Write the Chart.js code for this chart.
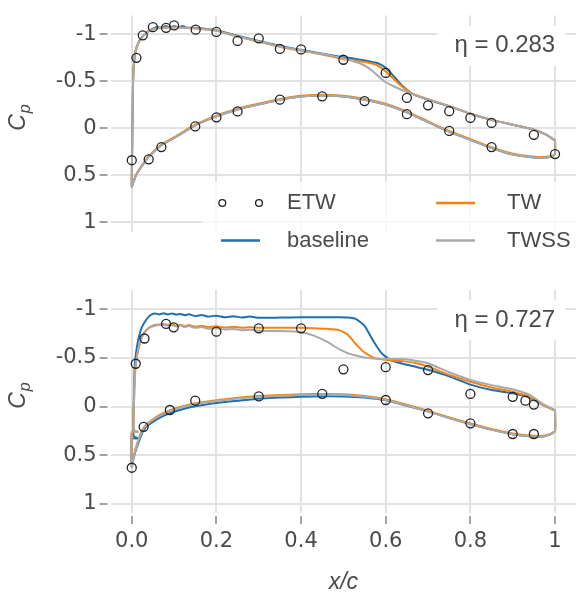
<!DOCTYPE html>
<html><head><meta charset="utf-8">
<script src="https://cdn.jsdelivr.net/npm/chart.js@4.4.1/dist/chart.umd.min.js"></script>
<style>
html,body{margin:0;padding:0;background:#fff;overflow:hidden;width:579px;height:599px;}
canvas{position:absolute;left:0;}
#c1{top:0px}
#c2{top:260px}
</style></head><body>
<canvas id="c1" width="582" height="260"></canvas>
<canvas id="c2" width="582" height="339"></canvas>
<script>
// ---------- tick labels / names ----------
const xTickValues = [0, 0.2, 0.4, 0.6, 0.8, 1];
const xTickLabels = ['0.0', '0.2', '0.4', '0.6', '0.8', '1'];
const yTickValues = [-1, -0.5, 0, 0.5, 1];
const yTickLabels = ['-1', '-0.5', '0', '0.5', '1'];
const seriesNames = ['ETW', 'baseline', 'TW', 'TWSS'];
const panelLabels = ['η = 0.283', 'η = 0.727'];

// ---------- panel 1 (eta = 0.283) ----------
const p1UpperX = [0, 0.001, 0.003, 0.007, 0.012, 0.018, 0.025, 0.035, 0.05, 0.06, 0.07, 0.08, 0.09, 0.1, 0.11, 0.12, 0.13, 0.15, 0.175, 0.2, 0.25, 0.3, 0.35, 0.4, 0.45, 0.5, 0.52, 0.54, 0.56, 0.58, 0.6, 0.62, 0.64, 0.66, 0.68, 0.7, 0.75, 0.8, 0.85, 0.9, 0.95, 0.98, 1.0];
const p1UpperBaseline = [0.62, 0.2, -0.5, -0.78, -0.87, -0.93, -0.975, -1.02, -1.06, -1.08, -1.07, -1.09, -1.075, -1.09, -1.075, -1.088, -1.072, -1.07, -1.058, -1.045, -0.985, -0.93, -0.878, -0.835, -0.795, -0.757, -0.745, -0.73, -0.715, -0.695, -0.645, -0.55, -0.45, -0.375, -0.335, -0.305, -0.235, -0.155, -0.09, -0.038, 0.015, 0.07, 0.13];
const p1UpperTW = [0.62, 0.2, -0.5, -0.78, -0.87, -0.93, -0.975, -1.02, -1.055, -1.065, -1.07, -1.072, -1.074, -1.075, -1.074, -1.072, -1.07, -1.065, -1.055, -1.04, -0.978, -0.922, -0.868, -0.826, -0.785, -0.738, -0.725, -0.712, -0.698, -0.67, -0.605, -0.52, -0.44, -0.378, -0.338, -0.31, -0.236, -0.155, -0.09, -0.038, 0.015, 0.07, 0.13];
const p1UpperTWSS = [0.62, 0.2, -0.5, -0.78, -0.87, -0.93, -0.975, -1.02, -1.053, -1.063, -1.068, -1.07, -1.072, -1.073, -1.072, -1.07, -1.068, -1.063, -1.053, -1.04, -0.978, -0.925, -0.872, -0.83, -0.79, -0.745, -0.72, -0.69, -0.64, -0.565, -0.49, -0.445, -0.405, -0.37, -0.337, -0.31, -0.236, -0.155, -0.09, -0.038, 0.015, 0.07, 0.13];
const p1LowerX = [0, 0.003, 0.01, 0.022, 0.04, 0.07, 0.105, 0.15, 0.2, 0.25, 0.3, 0.35, 0.4, 0.45, 0.5, 0.55, 0.6, 0.65, 0.7, 0.75, 0.8, 0.85, 0.9, 0.95, 0.98, 0.995, 1.0];
const p1LowerBaseline = [0.62, 0.586, 0.5, 0.415, 0.305, 0.18, 0.09, -0.03, -0.127, -0.2, -0.254, -0.305, -0.338, -0.348, -0.338, -0.305, -0.254, -0.17, -0.066, 0.037, 0.123, 0.21, 0.28, 0.31, 0.31, 0.295, 0.27];
const p1LowerTW = [0.62, 0.58, 0.494, 0.407, 0.297, 0.172, 0.082, -0.038, -0.135, -0.208, -0.262, -0.313, -0.346, -0.356, -0.346, -0.313, -0.262, -0.178, -0.074, 0.029, 0.115, 0.202, 0.272, 0.302, 0.302, 0.29, 0.27];
const p1LowerTWSS = [0.62, 0.586, 0.5, 0.415, 0.305, 0.18, 0.09, -0.03, -0.127, -0.2, -0.254, -0.305, -0.338, -0.348, -0.338, -0.305, -0.254, -0.17, -0.066, 0.037, 0.123, 0.21, 0.28, 0.31, 0.31, 0.295, 0.27];
const p1EtwX = [0, 0.011, 0.026, 0.05, 0.081, 0.1, 0.151, 0.2, 0.25, 0.3, 0.35, 0.4, 0.5, 0.6, 0.65, 0.7, 0.75, 0.8, 0.85, 0.95, 1.0, 0.04, 0.07, 0.15, 0.2, 0.25, 0.35, 0.45, 0.55, 0.65, 0.75, 0.85];
const p1EtwCp = [0.34, -0.75, -0.99, -1.077, -1.07, -1.095, -1.05, -1.026, -0.93, -0.957, -0.845, -0.84, -0.73, -0.59, -0.323, -0.245, -0.182, -0.11, -0.057, 0.07, 0.275, 0.33, 0.2, -0.02, -0.117, -0.18, -0.305, -0.34, -0.29, -0.15, 0.028, 0.2];

// ---------- panel 2 (eta = 0.727) ----------
const p2UpperX = [0, 0, 0.014, 0.004, 0.005, 0.007, 0.01, 0.015, 0.02, 0.026, 0.033, 0.04, 0.046, 0.055, 0.065, 0.075, 0.085, 0.095, 0.105, 0.115, 0.125, 0.135, 0.15, 0.165, 0.18, 0.2, 0.22, 0.24, 0.26, 0.28, 0.3, 0.35, 0.4, 0.43, 0.46, 0.49, 0.51, 0.53, 0.55, 0.57, 0.59, 0.61, 0.64, 0.67, 0.7, 0.75, 0.8, 0.85, 0.9, 0.94, 0.97, 1.0];
const p2UpperBaseline = [0.62, 0.33, 0.33, 0.3, -0.1, -0.42, -0.55, -0.68, -0.77, -0.835, -0.885, -0.925, -0.945, -0.958, -0.948, -0.96, -0.948, -0.958, -0.945, -0.953, -0.94, -0.95, -0.93, -0.942, -0.925, -0.935, -0.918, -0.93, -0.915, -0.925, -0.913, -0.915, -0.918, -0.918, -0.918, -0.918, -0.916, -0.9, -0.83, -0.68, -0.55, -0.48, -0.44, -0.41, -0.378, -0.31, -0.225, -0.17, -0.135, -0.09, -0.02, 0.04];
const p2UpperTW = [0.62, 0.26, 0.26, 0.24, 0.0, -0.3, -0.45, -0.58, -0.66, -0.735, -0.78, -0.81, -0.825, -0.838, -0.845, -0.848, -0.838, -0.846, -0.832, -0.842, -0.826, -0.838, -0.822, -0.832, -0.816, -0.826, -0.812, -0.82, -0.81, -0.816, -0.81, -0.81, -0.81, -0.806, -0.8, -0.786, -0.74, -0.64, -0.555, -0.505, -0.485, -0.475, -0.467, -0.448, -0.41, -0.325, -0.255, -0.195, -0.152, -0.1, -0.02, 0.04];
const p2UpperTWSS = [0.62, 0.26, 0.26, 0.24, 0.0, -0.3, -0.45, -0.58, -0.66, -0.73, -0.775, -0.805, -0.82, -0.832, -0.838, -0.84, -0.832, -0.838, -0.825, -0.834, -0.818, -0.828, -0.81, -0.818, -0.8, -0.806, -0.792, -0.798, -0.786, -0.79, -0.78, -0.777, -0.765, -0.73, -0.67, -0.59, -0.55, -0.525, -0.505, -0.495, -0.49, -0.489, -0.488, -0.47, -0.445, -0.352, -0.273, -0.22, -0.177, -0.12, -0.03, 0.04];
const p2LowerX = [0, 0.003, 0.01, 0.018, 0.026, 0.035, 0.05, 0.07, 0.09, 0.12, 0.15, 0.2, 0.25, 0.3, 0.35, 0.4, 0.45, 0.5, 0.55, 0.6, 0.65, 0.7, 0.75, 0.8, 0.85, 0.9, 0.95, 0.975, 0.99, 1.0];
const p2LowerBaseline = [0.62, 0.555, 0.445, 0.345, 0.26, 0.205, 0.158, 0.106, 0.07, 0.028, -0.002, -0.035, -0.06, -0.08, -0.092, -0.1, -0.105, -0.104, -0.092, -0.063, -0.008, 0.05, 0.117, 0.18, 0.238, 0.285, 0.31, 0.305, 0.285, 0.25];
const p2LowerTW = [0.62, 0.542, 0.422, 0.312, 0.232, 0.182, 0.131, 0.077, 0.038, -0.003, -0.034, -0.065, -0.09, -0.108, -0.118, -0.126, -0.13, -0.126, -0.108, -0.075, -0.018, 0.045, 0.112, 0.175, 0.232, 0.278, 0.302, 0.297, 0.28, 0.25];
const p2LowerTWSS = [0.62, 0.55, 0.43, 0.32, 0.24, 0.19, 0.139, 0.085, 0.046, 0.005, -0.026, -0.057, -0.082, -0.1, -0.11, -0.118, -0.122, -0.118, -0.1, -0.067, -0.01, 0.053, 0.12, 0.183, 0.24, 0.286, 0.31, 0.305, 0.285, 0.25];
const p2EtwX = [0, 0.0094, 0.03, 0.081, 0.099, 0.2, 0.3, 0.4, 0.5, 0.6, 0.7, 0.8, 0.9, 0.93, 0.95, 0.028, 0.09, 0.15, 0.3, 0.45, 0.6, 0.7, 0.8, 0.9, 0.95];
const p2EtwCp = [0.63, -0.44, -0.70, -0.85, -0.815, -0.77, -0.805, -0.805, -0.383, -0.405, -0.375, -0.129, -0.10, -0.06, -0.02, 0.209, 0.036, -0.06, -0.104, -0.131, -0.067, 0.07, 0.173, 0.283, 0.283];

// ---------- styles ----------
const COL_BASE = '#1f70ad', COL_TW = '#f7820f', COL_TWSS = '#a9a9a9', COL_ETW = '#222222';
const TXT = '#4a4a4a';

function loop(ux, ucp, lx, lcp) {
  const pts = [];
  for (let i = ux.length - 1; i >= 0; i--) pts.push({x: ux[i], y: ucp[i]});
  for (let i = 1; i < lx.length; i++) pts.push({x: lx[i], y: lcp[i]});
  pts.push({x: ux[ux.length - 1], y: ucp[ucp.length - 1]});
  return pts;
}
function pts(xs, ys) { return xs.map((x, i) => ({x: x, y: ys[i]})); }

function lineDs(label, data, color, order) {
  return {label, data, showLine: true, borderColor: color, borderWidth: 2, pointRadius: 0,
          tension: 0.15, fill: false, order};
}

function makePanel(canvasId, idx, cfg) {
  const decor = {
    id: 'decor' + idx,
    beforeDatasetsDraw(chart) {
      const a = chart.chartArea, ctx = chart.ctx;
      ctx.save();
      ctx.fillStyle = '#ffffff';
      ctx.fillRect(a.right - 139, a.top + 10, 128, 40);
      ctx.restore();
    },
    afterDraw(chart) {
      const a = chart.chartArea, ctx = chart.ctx;
      ctx.save();
      // panel annotation
      ctx.fillStyle = TXT;
      ctx.font = '24px "Liberation Sans"';
      ctx.textAlign = 'right';
      ctx.textBaseline = 'middle';
      ctx.fillText(panelLabels[idx], a.right - 21, a.top + 30);
      // y-axis label C_p
      const cy = (a.top + a.bottom) / 2 + 7.2;
      ctx.save();
      ctx.translate(25, cy);
      ctx.rotate(-Math.PI / 2);
      ctx.textAlign = 'left';
      ctx.textBaseline = 'alphabetic';
      ctx.font = 'italic 23px "Liberation Sans"';
      ctx.fillText('C', 0, 0);
      const w = ctx.measureText('C').width;
      ctx.font = 'italic 16px "Liberation Sans"';
      ctx.fillText('p', w + 1, 5);
      ctx.restore();
      // legend (top panel only)
      if (cfg.legend) {
        const top = a.bottom - 49.6;
        ctx.fillStyle = 'rgba(255,255,255,0.8)';
        ctx.fillRect(202, top, 400, 72);
        const r1 = a.bottom - 28.6, r2 = a.bottom + 9;
        ctx.strokeStyle = COL_ETW; ctx.lineWidth = 1.3;
        [222.3, 259].forEach(cx => { ctx.beginPath(); ctx.arc(cx, r1, 3.4, 0, Math.PI * 2); ctx.stroke(); });
        ctx.lineWidth = 2.5;
        const seg = (x1, x2, y, c) => { ctx.strokeStyle = c; ctx.beginPath(); ctx.moveTo(x1, y); ctx.lineTo(x2, y); ctx.stroke(); };
        seg(221, 260, r2, COL_BASE);
        seg(436, 475, r1, COL_TW);
        seg(436, 475, r2, COL_TWSS);
        ctx.fillStyle = TXT;
        ctx.font = '22px "Liberation Sans"';
        ctx.textAlign = 'left';
        ctx.textBaseline = 'middle';
        ctx.fillText(seriesNames[0], 287, r1);
        ctx.fillText(seriesNames[1], 287, r2);
        ctx.fillText(seriesNames[2], 507, r1);
        ctx.fillText(seriesNames[3], 507, r2);
      }
      ctx.restore();
    }
  };

  const gridBase = {color: '#e2e2e2', lineWidth: 2, tickLength: 11, tickColor: '#858585', tickWidth: 1.5};
  return new Chart(document.getElementById(canvasId), {
    type: 'scatter',
    data: {datasets: [
      {label: seriesNames[0], data: pts(cfg.etwX, cfg.etwCp), showLine: false, pointRadius: 4.5,
       pointStyle: 'circle', backgroundColor: 'rgba(0,0,0,0)', borderColor: COL_ETW, borderWidth: 1.3, order: 0},
      lineDs(seriesNames[1], loop(cfg.ux, cfg.uBase, cfg.lx, cfg.lBase), COL_BASE, 3),
      lineDs(seriesNames[2], loop(cfg.ux, cfg.uTW, cfg.lx, cfg.lTW), COL_TW, 2),
      lineDs(seriesNames[3], loop(cfg.ux, cfg.uTWSS, cfg.lx, cfg.lTWSS), COL_TWSS, 1)
    ]},
    options: {
      responsive: false, animation: false, devicePixelRatio: 1,
      layout: {padding: {left: 0, right: 1.1, top: cfg.padTop, bottom: 0}},
      plugins: {legend: {display: false}, tooltip: {enabled: false}},
      scales: {
        x: {
          type: 'linear', min: -0.05, max: 1.05, position: 'bottom',
          afterBuildTicks: s => { s.ticks = xTickValues.map(v => ({value: v})); },
          afterFit: s => { s.height = cfg.xHeight; },
          border: {display: false},
          grid: Object.assign({}, gridBase, {drawTicks: cfg.showX, tickBorderDash: [0, 3, 8, 40]}),
          ticks: {display: cfg.showX, padding: 5, color: TXT, maxRotation: 0, autoSkip: false,
                  font: {family: 'DejaVu Sans', size: 21}, callback: (v, i) => xTickLabels[i]},
          title: {display: cfg.showX, text: 'x/c', color: TXT,
                  font: {family: 'Liberation Sans', size: 23, style: 'italic'}, padding: {top: 0, bottom: 3}}
        },
        y: {
          type: 'linear', reverse: true, min: -1.2, max: 1.1,
          afterBuildTicks: s => { s.ticks = yTickValues.map(v => ({value: v})); },
          afterFit: s => { s.width = 110.6; },
          border: {display: false},
          grid: Object.assign({}, gridBase, {drawTicks: true, tickBorderDash: [8, 40]}),
          ticks: {padding: 3, color: TXT, font: {family: 'DejaVu Sans', size: 21},
                  callback: (v, i) => yTickLabels[i]}
        }
      }
    },
    plugins: [decor]
  });
}

makePanel('c1', 0, {
  ux: p1UpperX, uBase: p1UpperBaseline, uTW: p1UpperTW, uTWSS: p1UpperTWSS,
  lx: p1LowerX, lBase: p1LowerBaseline, lTW: p1LowerTW, lTWSS: p1LowerTWSS,
  etwX: p1EtwX, etwCp: p1EtwCp, showX: false, legend: true, padTop: 8.06, xHeight: 28.4
});
makePanel('c2', 1, {
  ux: p2UpperX, uBase: p2UpperBaseline, uTW: p2UpperTW, uTWSS: p2UpperTWSS,
  lx: p2LowerX, lBase: p2LowerBaseline, lTW: p2LowerTW, lTWSS: p2LowerTWSS,
  etwX: p2EtwX, etwCp: p2EtwCp, showX: true, legend: false, padTop: 29.9, xHeight: 85.6
});
</script>
</body></html>
